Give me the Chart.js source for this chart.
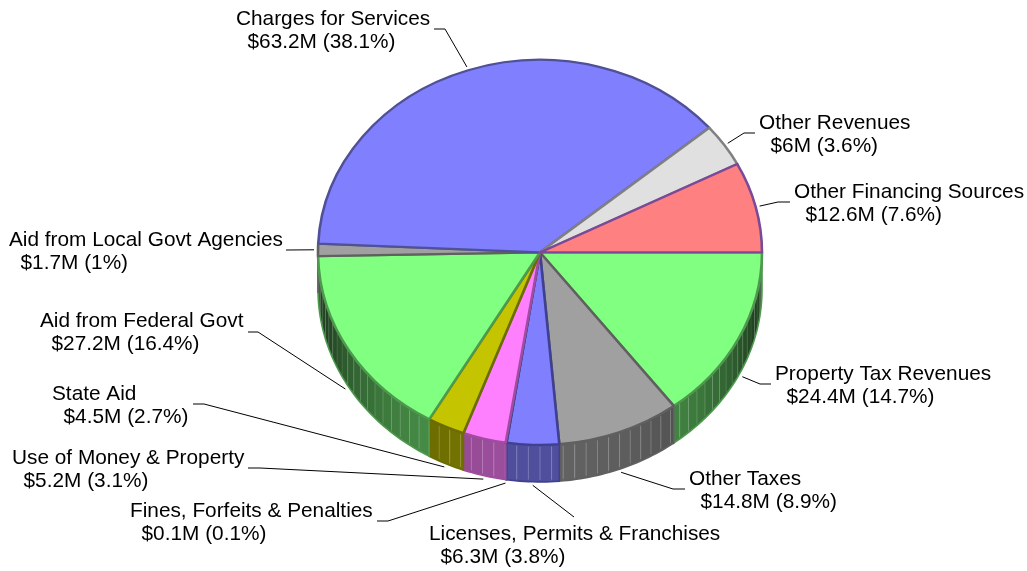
<!DOCTYPE html>
<html>
<head>
<meta charset="utf-8">
<style>html,body{margin:0;padding:0;background:#fff}#w{width:1027px;height:571px}</style>
<script src="https://cdn.jsdelivr.net/npm/chart.js@4"></script>
</head>
<body>
<div id="w"><canvas id="c" width="1027" height="571"></canvas></div>
<script>
const categories = ["Property Tax Revenues","Other Taxes","Licenses, Permits & Franchises","Fines, Forfeits & Penalties","Use of Money & Property","State Aid","Aid from Federal Govt","Aid from Local Govt Agencies","Charges for Services","Other Revenues","Other Financing Sources"];
const valuesM = [24.4,14.8,6.3,0.1,5.2,4.5,27.2,1.7,63.2,6,12.6];
const percents = [14.7,8.9,3.8,0.1,3.1,2.7,16.4,1,38.1,3.6,7.6];
const fillColors = ["#80ff80","#a0a0a0","#8080ff","#8080ff","#ff80ff","#c4c400","#80ff80","#a0a0a0","#8080ff","#e0e0e0","#ff8080"];
const edgeColors = ["#4d994d","#606060","#404090","#404090","#a04ca0","#6c6c00","#4d994d","#606060","#505098","#808080","#7a4a98"];
// label text anchor (left x, first-line baseline), leader knee and leader tail
const labelX = [775,689,429,130,12,52,40,9,236,759,794];
const labelY = [380,485,540,517,464,400,327,246,25,129,198];
const kneeX = [760,673,574,388,260,204,258,286,445,744,778];
const kneeY = [384,489,517,521,468,404,332,250,29,133,202];
const tailX = [771,685,574,377,248,193,248,286,434,755,790];
const tailY = [384,489,517,521,468,404,332,250,29,133,202];

const PIE = {cx:540, cy:252.4, rx:222, ry:192.5, depth:37};
const FONT = '20.8px "Liberation Sans", Arial, sans-serif';

function rgb(hex){return [1,3,5].map(i=>parseInt(hex.substr(i,2),16));}
function shadeOf(a){return Math.max(0.27,0.12+0.5*Math.sin(a));}
function proj(a,off){return [PIE.cx+PIE.rx*Math.cos(a), PIE.cy+PIE.ry*Math.sin(a)+off];}

function wallPath(ctx,a0,a1){
  const n=Math.max(2,Math.ceil((a1-a0)/0.02));
  ctx.beginPath();
  for(let i=0;i<=n;i++){const p=proj(a0+(a1-a0)*i/n,0);i?ctx.lineTo(p[0],p[1]):ctx.moveTo(p[0],p[1]);}
  for(let i=n;i>=0;i--){const p=proj(a0+(a1-a0)*i/n,PIE.depth);ctx.lineTo(p[0],p[1]);}
  ctx.closePath();
}

const pie3d = {
  id:'pie3d',
  beforeDatasetsDraw(chart){
    const ctx=chart.ctx, arcs=chart.getDatasetMeta(0).data;
    // walls: only the front half (angles 0..pi) is visible
    const step=3*Math.PI/180;
    arcs.forEach((arc,i)=>{
      const a0=Math.max(arc.startAngle,0), a1=Math.min(arc.endAngle,Math.PI);
      if(a1<=a0) return;
      const c=rgb(fillColors[i]);
      for(let k=Math.floor(a0/step);k*step<a1;k++){
        const s=Math.max(a0,k*step), e=Math.min(a1,(k+1)*step);
        const f=shadeOf((s+e)/2);
        ctx.fillStyle=`rgb(${c[0]*f|0},${c[1]*f|0},${c[2]*f|0})`;
        wallPath(ctx,s,e+0.002);ctx.fill();
      }
      ctx.lineWidth=1;
      for(let k=Math.ceil(a0/step);k*step<a1;k+=1){
        ctx.strokeStyle=`rgba(255,255,255,${0.04+0.2*Math.sin(k*step)})`;
        const t=proj(k*step,0),b=proj(k*step,PIE.depth);
        ctx.beginPath();ctx.moveTo(t[0],t[1]+2);ctx.lineTo(b[0],b[1]-2);ctx.stroke();
      }
      ctx.strokeStyle=edgeColors[i];ctx.lineWidth=1.6;
      wallPath(ctx,a0,a1);ctx.stroke();
    });
    const a=arcs[0];
    ctx.save();
    ctx.translate(PIE.cx,PIE.cy);ctx.scale(1,PIE.ry/PIE.rx);ctx.translate(-a.x,-a.y);
  },
  afterDatasetsDraw(chart){
    const ctx=chart.ctx, arcs=chart.getDatasetMeta(0).data;
    ctx.restore();
    // leaders and labels
    ctx.font=FONT;ctx.textAlign='left';ctx.textBaseline='alphabetic';
    arcs.forEach((arc,i)=>{
      const mid=(arc.startAngle+arc.endAngle)/2;
      const off=Math.sin(mid)>0?PIE.depth:0;
      const r=4;
      const ex=PIE.cx+(PIE.rx+r)*Math.cos(mid);
      const ey=PIE.cy+(PIE.ry+r*PIE.ry/PIE.rx)*Math.sin(mid)+off;
      ctx.strokeStyle='#000';ctx.lineWidth=1;
      ctx.beginPath();ctx.moveTo(ex,ey);ctx.lineTo(kneeX[i],kneeY[i]);ctx.lineTo(tailX[i],tailY[i]);ctx.stroke();
      ctx.fillStyle='#000';
      ctx.fillText(categories[i],labelX[i],labelY[i]);
      ctx.fillText('  $'+valuesM[i]+'M ('+percents[i]+'%)',labelX[i],labelY[i]+23);
    });
  }
};

new Chart(document.getElementById('c'),{
  type:'pie',
  data:{labels:categories,datasets:[{data:valuesM,backgroundColor:fillColors,borderColor:edgeColors,borderWidth:2.6,borderJoinStyle:'round',radius:PIE.rx}]},
  options:{
    responsive:false,animation:false,rotation:90,
    layout:{padding:0},
    plugins:{legend:{display:false},tooltip:{enabled:false},title:{display:false}},
    events:[]
  },
  plugins:[pie3d]
});
</script>
</body>
</html>
